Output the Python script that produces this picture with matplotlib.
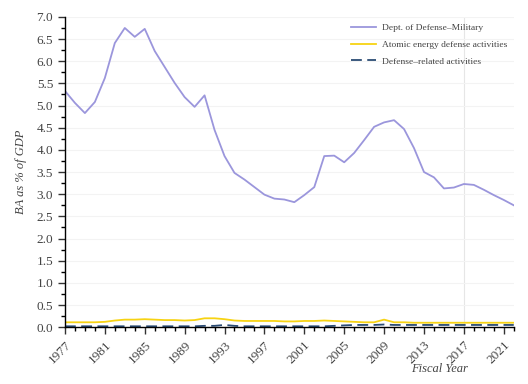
import matplotlib
matplotlib.use("Agg")
import matplotlib.pyplot as plt
from matplotlib.ticker import MultipleLocator, FixedLocator

years = list(range(1977, 2023))

# Dept. of Defense - Military, BA as % of GDP
dod_military = [
    5.33, 5.06, 4.83, 5.08, 5.62, 6.41, 6.75, 6.55, 6.73, 6.23,
    5.87, 5.51, 5.19, 4.97, 5.23, 4.45, 3.86, 3.48, 3.33, 3.16,
    2.99, 2.90, 2.88, 2.82, 2.98, 3.16, 3.86, 3.87, 3.72, 3.93,
    4.22, 4.52, 4.62, 4.67, 4.47, 4.04, 3.50, 3.38, 3.13, 3.15,
    3.23, 3.21, 3.10, 2.98, 2.87, 2.75,
]

# Atomic energy defense activities
atomic_energy = [
    0.11, 0.11, 0.11, 0.11, 0.12, 0.15, 0.17, 0.17, 0.18, 0.17,
    0.16, 0.16, 0.15, 0.16, 0.20, 0.20, 0.18, 0.15, 0.14, 0.14,
    0.14, 0.14, 0.13, 0.13, 0.14, 0.14, 0.15, 0.14, 0.13, 0.12,
    0.11, 0.11, 0.17, 0.11, 0.11, 0.10, 0.10, 0.10, 0.10, 0.10,
    0.10, 0.10, 0.10, 0.10, 0.10, 0.10,
]

# Defense-related activities
defense_related = [
    0.02, 0.02, 0.02, 0.02, 0.02, 0.02, 0.02, 0.02, 0.02, 0.02,
    0.02, 0.02, 0.02, 0.02, 0.03, 0.03, 0.05, 0.03, 0.02, 0.02,
    0.02, 0.02, 0.02, 0.02, 0.02, 0.02, 0.02, 0.03, 0.04, 0.05,
    0.05, 0.05, 0.06, 0.05, 0.05, 0.05, 0.05, 0.05, 0.05, 0.05,
    0.05, 0.05, 0.05, 0.05, 0.05, 0.05,
]

plt.rcParams["font.family"] = ["Liberation Serif", "DejaVu Serif"]

fig = plt.figure(figsize=(5.28, 3.84), dpi=100)
ax = fig.add_axes([0.123, 0.148, 0.850, 0.808])

ax.plot(years, dod_military, color="#9b96dc", lw=1.3,
        label="Dept. of Defense\u2013Military")
ax.plot(years, atomic_energy, color="#f7d313", lw=1.3,
        label="Atomic energy defense activities")
ax.plot(years, defense_related, color="#2b4c74", lw=1.3, dashes=(6, 3),
        label="Defense\u2013related activities")

# faint hover line
ax.axvline(2017, color="#e6e6e6", lw=0.8, zorder=0)

ax.set_xlim(1977, 2022)
ax.set_ylim(0, 7.0)
ax.xaxis.set_major_locator(FixedLocator(list(range(1977, 2022, 4))))
ax.xaxis.set_minor_locator(MultipleLocator(1))
ax.yaxis.set_major_locator(MultipleLocator(0.5))
ax.yaxis.set_minor_locator(MultipleLocator(0.25))
ax.yaxis.set_major_formatter(matplotlib.ticker.FormatStrFormatter("%.1f"))
ax.grid(axis="y", color="#f3f3f3", lw=0.8)
ax.set_axisbelow(True)

for s in ["top", "right"]:
    ax.spines[s].set_visible(False)
ax.spines["left"].set_linewidth(1.0)
ax.spines["bottom"].set_linewidth(1.0)

ax.tick_params(axis="both", which="major", length=5, width=1,
               labelsize=9.5, colors="#333333", labelcolor="#444444")
ax.tick_params(axis="both", which="minor", length=3, width=1)
plt.setp(ax.get_xticklabels(), rotation=45, ha="right", rotation_mode="anchor")

ax.set_ylabel("BA as % of GDP", fontsize=9, style="italic", color="#444444")
ax.yaxis.set_label_coords(-0.085, 0.5)
ax.set_xlabel("Fiscal Year", fontsize=9, style="italic", color="#444444")
ax.xaxis.set_label_coords(0.835, -0.115)

ax.legend(loc="upper right", bbox_to_anchor=(1.005, 1.005), frameon=False,
          fontsize=6.8, handlelength=2.6, handletextpad=0.7,
          labelspacing=0.85, labelcolor="#444444")

fig.savefig("out.png", dpi=100)
